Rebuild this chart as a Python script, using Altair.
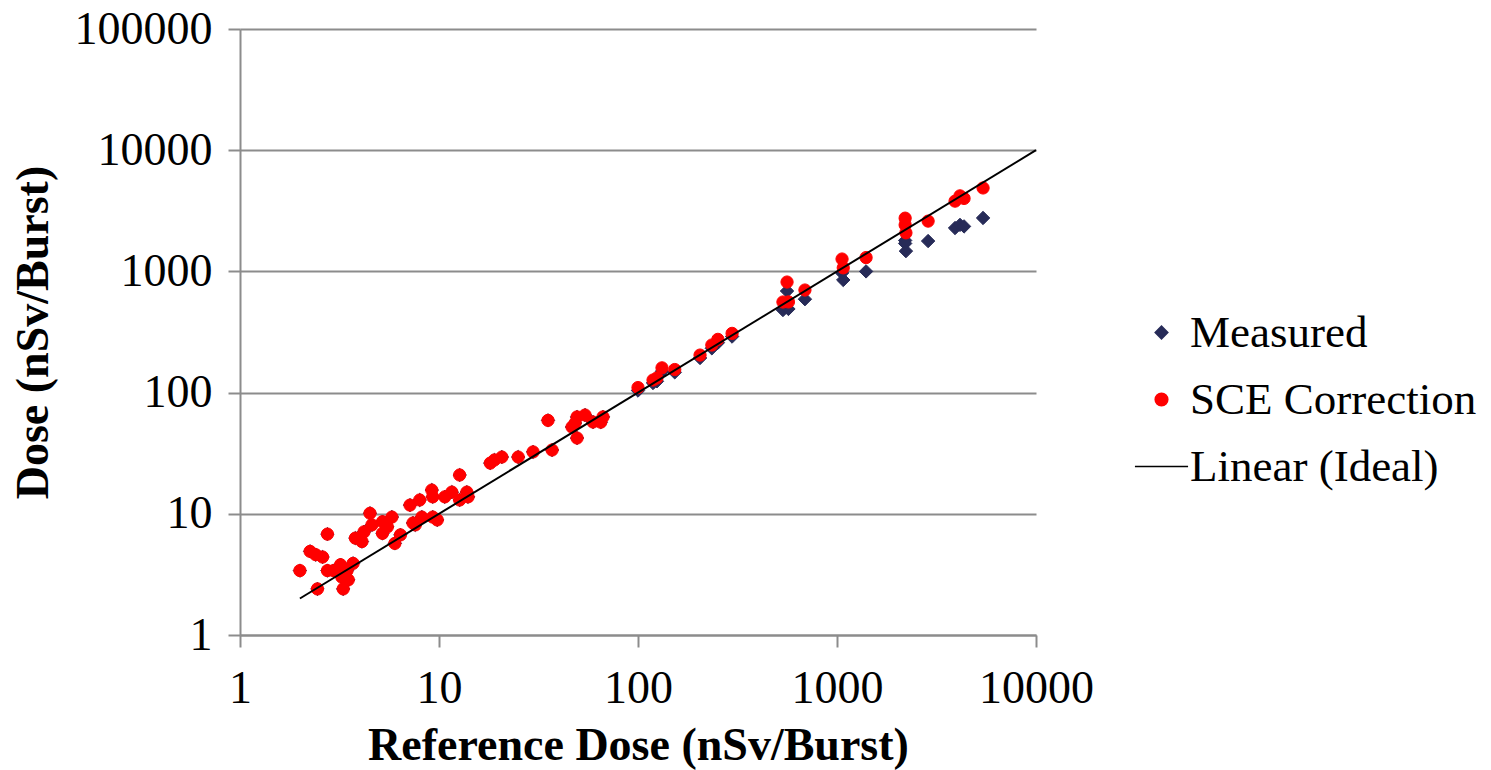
import altair as alt
import pandas as pd

# ---- data ----
low_ref = [2.0, 2.25, 2.4, 2.45, 2.6, 2.75, 2.75, 2.95, 3.2, 3.25, 3.3, 3.45, 3.5, 3.7, 3.8,
           4.1, 4.2, 4.5, 4.6, 5.2, 5.2, 5.5, 5.8, 6.0, 6.4, 7.15, 7.4, 7.6, 8.0, 8.2,
           9.2, 9.3, 9.3, 9.8, 10.7, 11.6, 12.7, 12.7, 13.8, 14.0, 18.1, 19.0, 20.7, 25.0,
           29.7, 35.3, 37.0, 46.6, 48.3, 49.4, 49.4, 54.2, 59.4, 65.0, 66.7]
low_val = [3.4, 4.9, 4.6, 2.4, 4.4, 6.8, 3.4, 3.4, 3.8, 3.0, 2.4, 3.4, 2.85, 3.9, 6.3,
           5.9, 7.1, 10.1, 8.1, 8.6, 6.9, 7.8, 9.4, 5.7, 6.7, 11.8, 8.4, 8.1, 13.0, 9.4,
           15.7, 13.8, 9.4, 8.9, 13.8, 15.1, 20.9, 13.0, 15.1, 13.8, 26.2, 27.8, 29.4, 29.4,
           32.4, 59.0, 33.6, 52.0, 56.0, 63.0, 42.2, 65.3, 57.2, 57.0, 63.0]

high_ref = [100, 119, 124.5, 132, 153, 205, 235, 252, 297,
            535, 561, 570, 690, 1060, 1075, 1400,
            2200, 2200, 2220, 2870, 3920, 4150, 4350, 5420]
high_sce = [110, 127, 132, 160, 155, 204, 247, 275, 308,
            559, 817, 560, 702, 1265, 1070, 1300,
            2750, 2420, 2080, 2600, 3800, 4200, 4000, 4880]
high_meas = [104, 120, 124, 150, 147, 193, 232, 258, 290,
             480, 689, 490, 590, 970, 850, 1000,
             1800, 1700, 1470, 1780, 2280, 2420, 2350, 2760]

line_ref = [2, 10000]
line_val = [2, 10000]

series_names = ["Measured", "SCE Correction", "Linear (Ideal)"]
series_colors = ["#272B58", "#FF0000", "#000000"]
series_shapes = ["diamond", "circle", "M-4.2,0H4.2"]

meas_df = pd.DataFrame({"ref": low_ref + high_ref, "dose": low_val + high_meas,
                        "series": "Measured"})
sce_df = pd.DataFrame({"ref": low_ref + high_ref, "dose": low_val + high_sce,
                       "series": "SCE Correction"})
line_df = pd.DataFrame({"ref": line_ref, "dose": line_val, "series": "Linear (Ideal)"})

FONT = "Liberation Serif"
FS = 46
GRID = "#8C8C8C"

xscale = alt.Scale(type="log", domain=[1, 10000], nice=False)
yscale = alt.Scale(type="log", domain=[1, 100000], nice=False)

xaxis = alt.Axis(values=[1, 10, 100, 1000, 10000], format="d", grid=False,
                 title="Reference Dose (nSv/Burst)", titleFont=FONT, titleFontSize=FS,
                 titleFontWeight="bold", titleColor="black", titlePadding=12,
                 labelFont=FONT, labelFontSize=FS, labelColor="black", labelPadding=19,
                 tickSize=12, tickColor=GRID, tickWidth=2, domainColor=GRID, domainWidth=2,
                 labelFlush=False, labelOverlap=False)
yaxis = alt.Axis(values=[1, 10, 100, 1000, 10000, 100000], format="d", grid=True,
                 gridColor=GRID, gridWidth=2,
                 title="Dose (nSv/Burst)", titleFont=FONT, titleFontSize=FS,
                 titleFontWeight="bold", titleColor="black", titlePadding=17,
                 labelFont=FONT, labelFontSize=FS, labelColor="black", labelPadding=16,
                 tickSize=12, tickColor=GRID, tickWidth=2, domainColor=GRID, domainWidth=2,
                 labelFlush=False, labelOverlap=False)

legend = alt.Legend(
    title=None, orient="none", legendX=899, legendY=281, padding=0,
    labelFont=FONT, labelFontSize=45, labelColor="black", labelLimit=0,
    labelOffset=6, rowPadding=21, symbolSize=160, symbolStrokeWidth=1.5,
    symbolOpacity=1)

sdom = series_names
fill_enc = alt.Fill("series:N", scale=alt.Scale(domain=sdom, range=series_colors), legend=legend)
stroke_enc = alt.Stroke("series:N", scale=alt.Scale(domain=sdom, range=series_colors), legend=legend)
shape_enc = alt.Shape("series:N", scale=alt.Scale(domain=sdom, range=series_shapes), legend=legend)

X = alt.X("ref:Q", scale=xscale, axis=xaxis)
Y = alt.Y("dose:Q", scale=yscale, axis=yaxis)

meas = alt.Chart(meas_df).mark_point(filled=True, opacity=1, strokeWidth=1, size=180).encode(
    x=X, y=Y, fill=fill_enc, stroke=stroke_enc, shape=shape_enc)
sce = alt.Chart(sce_df).mark_point(filled=True, opacity=1, strokeWidth=1, size=150).encode(
    x=X, y=Y, fill=fill_enc, stroke=stroke_enc, shape=shape_enc)
line = alt.Chart(line_df).mark_line(strokeWidth=2).encode(
    x=X, y=Y, stroke=stroke_enc)

chart = alt.layer(meas, sce, line).properties(
    width=796, height=606,
    autosize=alt.AutoSizeParams(type="none"),
    padding={"left": 232, "top": 21, "right": 447, "bottom": 135},
    background="white",
).configure_view(stroke=None)

chart.save("out.html", embed_options={"renderer": "svg", "actions": False})
